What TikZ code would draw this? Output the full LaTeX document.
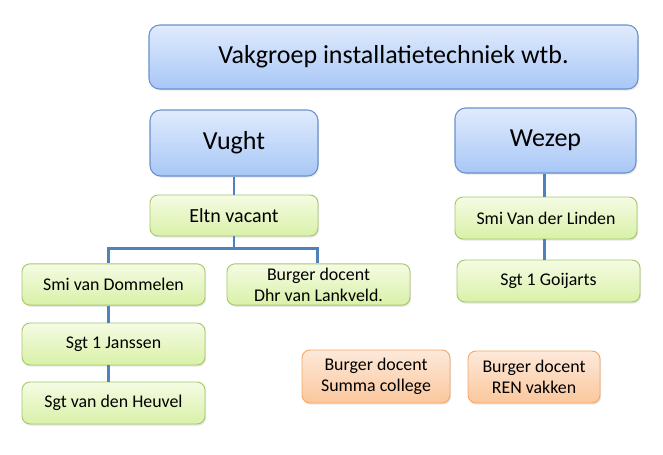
\documentclass[tikz,border=0pt]{standalone}
\usepackage{fontspec}
\setmainfont{Carlito}
\usepackage{tikz}
\usetikzlibrary{shadows}
\definecolor{lijnblauw}{HTML}{4F81BD}
\definecolor{randblauw}{HTML}{6A91CC}
\definecolor{blauwboven}{HTML}{E0EBFD}
\definecolor{blauwonder}{HTML}{A8C7F6}
\definecolor{randgroen}{HTML}{A5C86A}
\definecolor{groenboven}{HTML}{F5FBE3}
\definecolor{groenonder}{HTML}{D9F1A8}
\definecolor{randoranje}{HTML}{F7A663}
\definecolor{oranjeboven}{HTML}{FDE9DA}
\definecolor{oranjeonder}{HTML}{FBC79C}
\tikzset{
  blok/.style={rounded corners=6pt, inner sep=0pt, align=center,
    font=\fontsize{13.4}{15.6}\selectfont,
    drop shadow={shadow xshift=0.8pt, shadow yshift=-1.2pt, opacity=0.2}},
  blauwblok/.style={blok, draw=randblauw, line width=0.8pt, rounded corners=8pt,
    top color=blauwboven, bottom color=blauwonder,
    font=\fontsize{19.5}{22}\selectfont},
  groenblok/.style={blok, draw=randgroen, line width=0.7pt,
    top color=groenboven, bottom color=groenonder},
  oranjeblok/.style={blok, draw=randoranje, line width=0.7pt,
    top color=oranjeboven, bottom color=oranjeonder},
  lijn/.style={draw=lijnblauw, line width=2.2pt}
}

\begin{document}
\begin{tikzpicture}[x=0.75pt,y=-0.75pt]
\useasboundingbox (0,0) rectangle (663,454);
% top
\node[blauwblok, minimum width=366.75pt, minimum height=48pt] (vakgroep) at(393.5,57) {Vakgroep installatietechniek wtb.};
\node[blauwblok, minimum width=126pt, minimum height=49.5pt] (vught) at(234,143) {Vught};
\node[blauwblok, minimum width=135.75pt, minimum height=48.75pt] (wezep) at(545.5,140.5) {Wezep};
% Vught
\node[groenblok, minimum width=126pt, minimum height=30.75pt, font=\fontsize{15}{17}\selectfont] (eltn) at(234,215.5) {Eltn vacant};
\node[groenblok, minimum width=137.25pt, minimum height=31pt] (dommelen) at(113.5,284.5) {Smi van Dommelen};
\node[groenblok, minimum width=137.25pt, minimum height=31pt] (lankveld) at(318.5,284.5) {Burger docent\\Dhr van Lankveld.};
\node[groenblok, minimum width=137.25pt, minimum height=31.5pt] (janssen) at(113.5,344) {Sgt 1 Janssen};
\node[groenblok, minimum width=137.25pt, minimum height=31.5pt] (heuvel) at(113.5,403) {Sgt van den Heuvel};
% Wezep
\node[groenblok, minimum width=136.5pt, minimum height=31.5pt] (linden) at(546,218) {Smi Van der Linden};
\node[groenblok, minimum width=137.25pt, minimum height=31.5pt] (goijarts) at(548.5,281) {Sgt 1 Goijarts};
% burger docenten
\node[oranjeblok, minimum width=111pt, minimum height=39.75pt] (summa) at(376,376.5) {Burger docent\\Summa college};
\node[oranjeblok, minimum width=99pt, minimum height=39pt] (ren) at(534,377) {Burger docent\\REN vakken};

\draw[lijn] (vught) -- (eltn);
\draw[lijn] (eltn.south) -- ++(0,12) coordinate (tak);
\draw[lijn] (tak) -| ([xshift=-4pt]dommelen.north);
\draw[lijn] (tak) -| ([xshift=-1pt]lankveld.north);
\draw[lijn] ([xshift=-4pt]dommelen.south) -- ([xshift=-4pt]janssen.north);
\draw[lijn] ([xshift=-4pt]janssen.south) -- ([xshift=-4pt]heuvel.north);
\draw[lijn] ([xshift=-1pt]wezep.south) -- ([xshift=-1pt]wezep.south |- linden.north);
\draw[lijn] ([xshift=-1pt]linden.south) -- ([xshift=-1pt]linden.south |- goijarts.north);
\end{tikzpicture}
\end{document}
